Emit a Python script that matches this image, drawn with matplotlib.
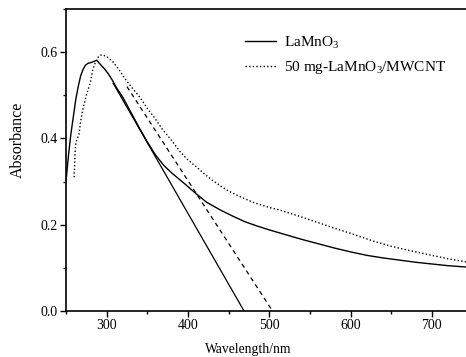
import matplotlib
matplotlib.use("Agg")
import matplotlib.pyplot as plt
from matplotlib.ticker import MultipleLocator

plt.rcParams['font.family'] = ['Liberation Serif', 'DejaVu Serif']
plt.rcParams['mathtext.fontset'] = 'custom'
plt.rcParams['mathtext.rm'] = 'Liberation Serif'
plt.rcParams['mathtext.it'] = 'Liberation Serif'

# UV-vis absorbance spectra
wl_lamno3 = [250, 253, 256, 259, 262, 265, 268, 271, 274, 277, 281, 285, 288,
             292, 297, 302, 307, 312, 320, 330, 340, 350, 360, 370, 380, 394,
             410, 423, 440, 455, 470, 485, 500, 520, 540, 560, 580, 600, 620,
             640, 660, 680, 700, 720, 742]
abs_lamno3 = [0.300, 0.360, 0.410, 0.450, 0.490, 0.520, 0.545, 0.560, 0.570,
              0.574, 0.576, 0.579, 0.581, 0.572, 0.562, 0.550, 0.535, 0.518,
              0.495, 0.460, 0.425, 0.392, 0.362, 0.338, 0.320, 0.298, 0.272,
              0.252, 0.234, 0.220, 0.207, 0.197, 0.188, 0.177, 0.166, 0.156,
              0.146, 0.137, 0.129, 0.123, 0.118, 0.113, 0.109, 0.105, 0.102]

wl_mwcnt = [260, 261, 262, 264, 266, 268, 271, 275, 280, 283, 286, 290, 294,
            300, 308, 315, 322, 331, 341, 350, 360, 369, 380, 390, 400, 411,
            420, 430, 440, 450, 464, 480, 500, 513, 538, 560, 580, 600, 628,
            650, 680, 700, 720, 742]
abs_mwcnt = [0.310, 0.360, 0.390, 0.400, 0.410, 0.440, 0.470, 0.500, 0.530,
             0.560, 0.575, 0.590, 0.594, 0.590, 0.577, 0.560, 0.540, 0.518,
             0.495, 0.470, 0.445, 0.420, 0.395, 0.370, 0.350, 0.333, 0.318,
             0.303, 0.290, 0.278, 0.265, 0.252, 0.240, 0.234, 0.219, 0.205,
             0.192, 0.180, 0.162, 0.150, 0.137, 0.129, 0.121, 0.114]

# Band-edge tangent lines (start point, x-axis intercept)
tan_lamno3_x = [308, 469]
tan_lamno3_y = [0.528, 0.0]
tan_mwcnt_x = [325, 504]
tan_mwcnt_y = [0.520, 0.0]

fig = plt.figure(figsize=(4.66, 3.57), dpi=100)
ax = fig.add_axes([66/466, 1 - 311/357, 400/466, 302/357])

ax.plot(wl_lamno3, abs_lamno3, color='black', lw=1.0, label='LaMnO$_3$')
ax.plot(wl_mwcnt, abs_mwcnt, color='black', lw=1.0, linestyle=(0, (1, 1.6)),
        label='50 mg-LaMnO$_3$/MWCNT')
ax.plot(tan_lamno3_x, tan_lamno3_y, color='black', lw=0.9)
ax.plot(tan_mwcnt_x, tan_mwcnt_y, color='black', lw=0.9, linestyle=(0, (3.5, 3)))

ax.set_xlim(250, 742)
ax.set_ylim(0, 0.7)
ax.xaxis.set_major_locator(MultipleLocator(100))
ax.xaxis.set_minor_locator(MultipleLocator(50))
ax.yaxis.set_major_locator(MultipleLocator(0.2))
ax.yaxis.set_minor_locator(MultipleLocator(0.1))
ax.yaxis.set_major_formatter(plt.FuncFormatter(lambda v, p: f'{v:.1f}'))
ax.tick_params(which='major', direction='out', length=4, width=1.0,
               labelsize=10, pad=2)
ax.tick_params(which='minor', direction='out', length=2.5, width=1.0)
ax.spines['right'].set_visible(False)
for s in ('left', 'bottom', 'top'):
    ax.spines[s].set_linewidth(1.2)

fig.text(248/466, 1 - 350/357, 'Wavelength/nm', fontsize=9.8,
         ha='center', va='center')
fig.text(18/466, 1 - 140/357, 'Absorbance', fontsize=11.5,
         ha='center', va='center', rotation=90)

ax.legend(loc='upper left', bbox_to_anchor=(0.4475, 0.915), frameon=False,
          fontsize=11, handlelength=2.0, handletextpad=0.55,
          labelspacing=0.55, borderpad=0, borderaxespad=0)

fig.savefig('out.png', dpi=100)
